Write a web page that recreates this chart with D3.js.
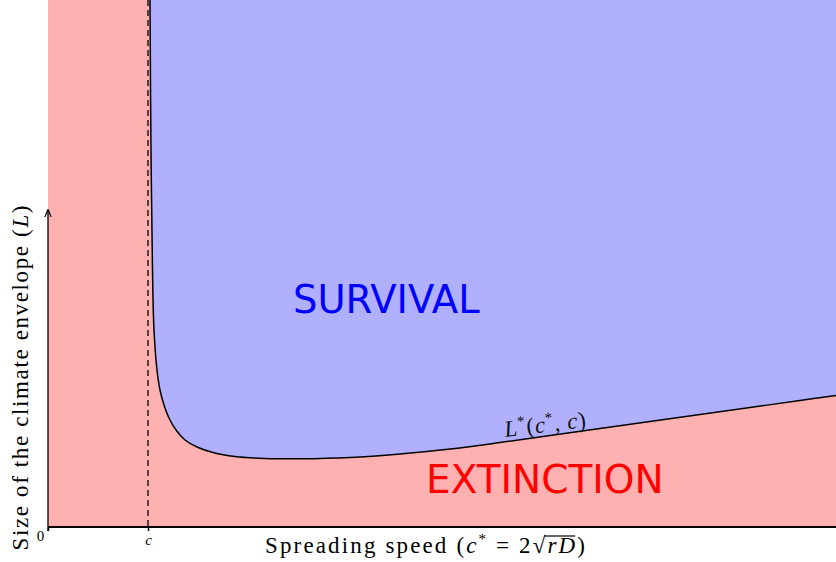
<!DOCTYPE html>
<html>
<head>
<meta charset="utf-8">
<script src="https://cdn.jsdelivr.net/npm/d3@7"></script>
<style>
  body { margin: 0; background: #fff; }
  svg { display: block; }
  .serif { font-family: "Liberation Serif", "DejaVu Serif", serif; }
  .sans { font-family: "DejaVu Sans", sans-serif; }
</style>
</head>
<body>
<svg class="chart" width="836" height="562"></svg>
<script>

// speeds in units of the climate speed c, sizes in arbitrary units
var climateSpeed = 1;
var speedMax = 7.88,
    sizeMax = 5.27;

// critical size L*(c*, c)
var curveSpeed = [1.02, 1.03, 1.045, 1.06, 1.09, 1.12, 1.16, 1.21, 1.28, 1.37, 1.49, 1.65, 1.87, 2.17, 2.52, 3.02, 3.52, 4.02, 4.52, 5.02, 5.52, 6.02, 6.52, 7.02, 7.52, 7.88];
var curveSize  = [5.27, 3.77, 2.57, 1.97, 1.57, 1.37, 1.22, 1.09, 0.97, 0.87, 0.80, 0.745, 0.705, 0.685, 0.682, 0.695, 0.73, 0.78, 0.845, 0.915, 0.985, 1.055, 1.125, 1.195, 1.265, 1.315];

var xTicks = [0, climateSpeed],
    xTickLabels = ["0", "c"];

var svg = d3.select(".chart"),
    width = +svg.attr("width"),
    height = +svg.attr("height");

var margin = {left: 48, right: 0, top: 0, bottom: 35};

var x = d3.scaleLinear()
    .domain([0, speedMax])
    .range([margin.left, width - margin.right]);

var y = d3.scaleLinear()
    .domain([0, sizeMax])
    .range([height - margin.bottom, margin.top]);

var points = curveSpeed.map(function(s, i) { return {s: s, L: curveSize[i]}; });

// extinction everywhere, survival painted on top
svg.append("rect")
    .attr("x", x(0))
    .attr("y", y(sizeMax))
    .attr("width", x(speedMax) - x(0))
    .attr("height", y(0) - y(sizeMax))
    .attr("fill", "#ffb0b0");

var area = d3.area()
    .curve(d3.curveCatmullRom)
    .x(function(d) { return x(d.s); })
    .y0(y(sizeMax))
    .y1(function(d) { return y(d.L); });

svg.append("path")
    .datum(points)
    .attr("d", area)
    .attr("fill", "#b0b0ff");

var line = d3.line()
    .curve(d3.curveCatmullRom)
    .x(function(d) { return x(d.s); })
    .y(function(d) { return y(d.L); });

svg.append("path")
    .datum(points)
    .attr("d", line)
    .attr("fill", "none")
    .attr("stroke", "#000")
    .attr("stroke-width", 1.5);

// dashed line at c
svg.append("line")
    .attr("x1", x(climateSpeed)).attr("x2", x(climateSpeed))
    .attr("y1", y(sizeMax)).attr("y2", y(0) + 3)
    .attr("stroke", "#000")
    .attr("stroke-width", 1.3)
    .attr("stroke-dasharray", "6,4");

// axes
var xAxis = d3.axisBottom(x)
    .tickValues(xTicks)
    .tickFormat(function(d, i) { return xTickLabels[i]; })
    .tickSize(4);

var gx = svg.append("g")
    .attr("transform", "translate(0," + y(0) + ")")
    .call(xAxis);
gx.select(".domain").attr("stroke-width", 2).attr("d", "M" + x(0) + ",0H" + x(speedMax));
gx.selectAll(".tick line").attr("stroke-width", 1.5);
gx.selectAll(".tick text")
    .attr("class", "serif")
    .attr("font-size", 15)
    .attr("font-style", function(d, i) { return i ? "italic" : null; })
    .attr("fill", "#000");
gx.selectAll(".tick").filter(function(d) { return d === 0; }).select("text")
    .attr("dx", -8).attr("dy", "0.45em");

// y axis with arrow
svg.append("defs").append("marker")
    .attr("id", "arrow")
    .attr("viewBox", "0 0 10 10")
    .attr("refX", 9).attr("refY", 5)
    .attr("markerWidth", 6).attr("markerHeight", 6)
    .attr("orient", "auto")
  .append("path")
    .attr("d", "M0,1L10,5L0,9")
    .attr("fill", "none")
    .attr("stroke", "#000")
    .attr("stroke-width", 1.5);

svg.append("line")
    .attr("x1", x(0)).attr("x2", x(0))
    .attr("y1", y(0) + 4).attr("y2", y(3.17))
    .attr("stroke", "#000")
    .attr("stroke-width", 1.3)
    .attr("marker-end", "url(#arrow)");

// axis titles
var xt = svg.append("text")
    .attr("class", "serif")
    .attr("x", 425).attr("y", 553)
    .attr("text-anchor", "middle")
    .attr("font-size", 23)
    .attr("textLength", 320)
    .attr("lengthAdjust", "spacing");
xt.append("tspan").text("Spreading speed (");
xt.append("tspan").attr("font-style", "italic").text("c");
xt.append("tspan").attr("dy", -9).attr("font-size", 15).text("*");
xt.append("tspan").attr("dy", 9).text(" = 2√");
xt.append("tspan").attr("font-style", "italic").text("rD");
xt.append("tspan").text(")");

// bar over rD, from the end of the radical sign to the end of D
var xtNode = xt.node(),
    full = xtNode.textContent,
    iRoot = full.indexOf("√"),
    iD = full.indexOf("rD") + 1;
var barX0 = xtNode.getEndPositionOfChar(iRoot).x - 1,
    barX1 = xtNode.getEndPositionOfChar(iD).x;
svg.append("line")
    .attr("x1", barX0).attr("x2", barX1)
    .attr("y1", 553 - 17).attr("y2", 553 - 17)
    .attr("stroke", "#000")
    .attr("stroke-width", 1.2);

var yt = svg.append("text")
    .attr("class", "serif")
    .attr("transform", "translate(28,378) rotate(-90)")
    .attr("text-anchor", "middle")
    .attr("font-size", 23)
    .attr("textLength", 345)
    .attr("lengthAdjust", "spacing");
yt.append("tspan").text("Size of the climate envelope (");
yt.append("tspan").attr("font-style", "italic").text("L");
yt.append("tspan").text(")");

// curve label
var lt = svg.append("text")
    .attr("class", "serif")
    .attr("transform", "translate(546,432) rotate(-7)")
    .attr("text-anchor", "middle")
    .attr("font-size", 23)
    .attr("fill", "#111")
    .attr("textLength", 82)
    .attr("lengthAdjust", "spacing");
lt.append("tspan").attr("font-style", "italic").text("L");
lt.append("tspan").attr("dy", -9).attr("font-size", 15).text("*");
lt.append("tspan").attr("dy", 9).text("(");
lt.append("tspan").attr("font-style", "italic").text("c");
lt.append("tspan").attr("dy", -9).attr("font-size", 15).text("*");
lt.append("tspan").attr("dy", 9).text(", ");
lt.append("tspan").attr("font-style", "italic").text("c");
lt.append("tspan").text(")");

// region names
svg.append("text")
    .attr("class", "sans")
    .attr("x", x(2.45)).attr("y", y(2.14))
    .attr("font-size", 38.5)
    .attr("fill", "#0000ff")
    .text("SURVIVAL");

svg.append("text")
    .attr("class", "sans")
    .attr("x", x(3.78)).attr("y", y(0.34))
    .attr("font-size", 39)
    .attr("fill", "#ff0000")
    .text("EXTINCTION");

</script>
</body>
</html>
